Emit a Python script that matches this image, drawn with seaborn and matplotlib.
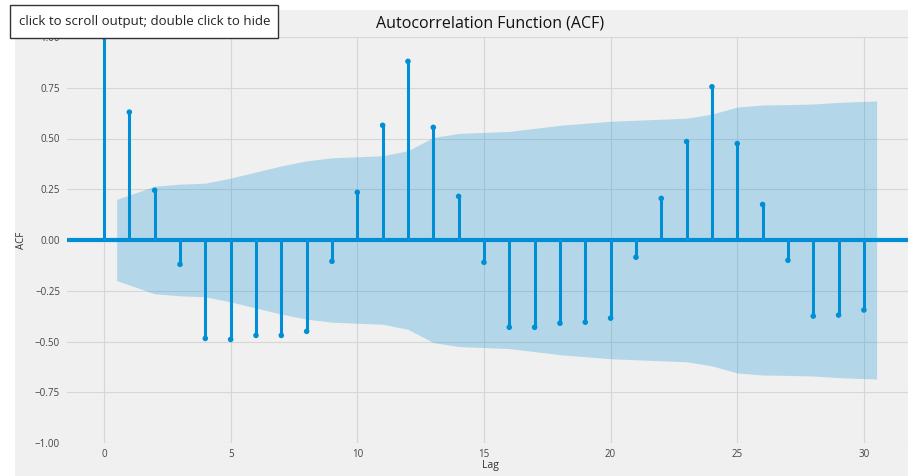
import numpy as np
import pandas as pd
import matplotlib
matplotlib.use("Agg")
import matplotlib.pyplot as plt
from matplotlib.patches import Rectangle
import seaborn as sns

# ---- data ----
lags = list(range(0, 31))
acf_values = [1.00, 0.63, 0.245, -0.12, -0.485, -0.49, -0.47, -0.47, -0.45, -0.105,
              0.235, 0.565, 0.88, 0.555, 0.215, -0.11, -0.43, -0.43, -0.41, -0.405,
              -0.385, -0.085, 0.205, 0.485, 0.755, 0.475, 0.175, -0.10, -0.375, -0.37,
              -0.345]
band_lags = [0.5] + list(range(2, 30)) + [30.5]
band_half = [0.20, 0.265, 0.275, 0.28, 0.305, 0.335, 0.365, 0.39, 0.405, 0.41,
             0.415, 0.44, 0.505, 0.525, 0.53, 0.535, 0.55, 0.565, 0.575, 0.585,
             0.59, 0.595, 0.60, 0.62, 0.655, 0.665, 0.667, 0.67, 0.678, 0.685]
x_ticks = [0, 5, 10, 15, 20, 25, 30]
y_ticks = [-1.0, -0.75, -0.5, -0.25, 0.0, 0.25, 0.5, 0.75, 1.0]
title = "Autocorrelation Function (ACF)"
tooltip = "click to scroll output; double click to hide"

df = pd.DataFrame({"lag": lags, "acf": acf_values})
band_lo = [-v for v in band_half]

BLUE = "#008fd5"
BG = "#f0f0f0"
W, H = 908, 476

sns.set_theme(style="whitegrid")
plt.rcParams["font.family"] = ["Open Sans", "DejaVu Sans"]

fig = plt.figure(figsize=(W / 100, H / 100), dpi=100)
fig.patch.set_facecolor("white")
fig.patches.append(Rectangle((15 / W, 0), 1 - 15 / W, (H - 10) / H,
                             transform=fig.transFigure, facecolor=BG,
                             edgecolor="none", zorder=-5))

ax = fig.add_axes([67 / W, 33 / H, (W - 67) / W, 406 / H])
ax.set_facecolor(BG)
ax.set_xlim(-1.46, 31.74)
ax.set_ylim(-1.0, 1.0)

ax.fill_between(band_lags, band_lo, band_half, color=BLUE, alpha=0.25, lw=0, zorder=1)
ax.axhline(0, color=BLUE, lw=3, zorder=2)
ax.vlines(df["lag"], 0, df["acf"], color=BLUE, lw=2.2, zorder=3)
sns.scatterplot(data=df, x="lag", y="acf", color=BLUE, s=16, edgecolor="none",
                ax=ax, zorder=4, legend=False)

ax.set_xticks(x_ticks)
ax.set_yticks(y_ticks)
ax.grid(True, color="#d6d6d6", lw=0.8)
ax.set_axisbelow(True)
for s in ax.spines.values():
    s.set_visible(False)
ax.tick_params(axis="both", length=0, labelsize=7, colors="#444444")
ax.tick_params(axis="y", pad=5)
ax.tick_params(axis="x", pad=4)

ax.set_xlabel("Lag", fontsize=7.5, color="#333333")
ax.set_ylabel("ACF", fontsize=7, color="#333333")
ax.xaxis.set_label_coords((490 - 67) / 841, (443 - 460) / 406)
ax.yaxis.set_label_coords((27 - 67) / 841, 0.5)

fig.text(490 / W, 1 - 23 / H, title, ha="center", va="center",
         fontsize=11.5, color="#111111")

fig.patches.append(Rectangle((10 / W, 1 - 38 / H), 268 / W, 33 / H,
                             transform=fig.transFigure, facecolor="white",
                             edgecolor="#333333", lw=1, zorder=10))
fig.text(19 / W, 1 - 21.5 / H, tooltip, ha="left", va="center",
         fontsize=9.5, color="#222222", zorder=11)

fig.savefig("out.png", dpi=100, facecolor=fig.get_facecolor())
